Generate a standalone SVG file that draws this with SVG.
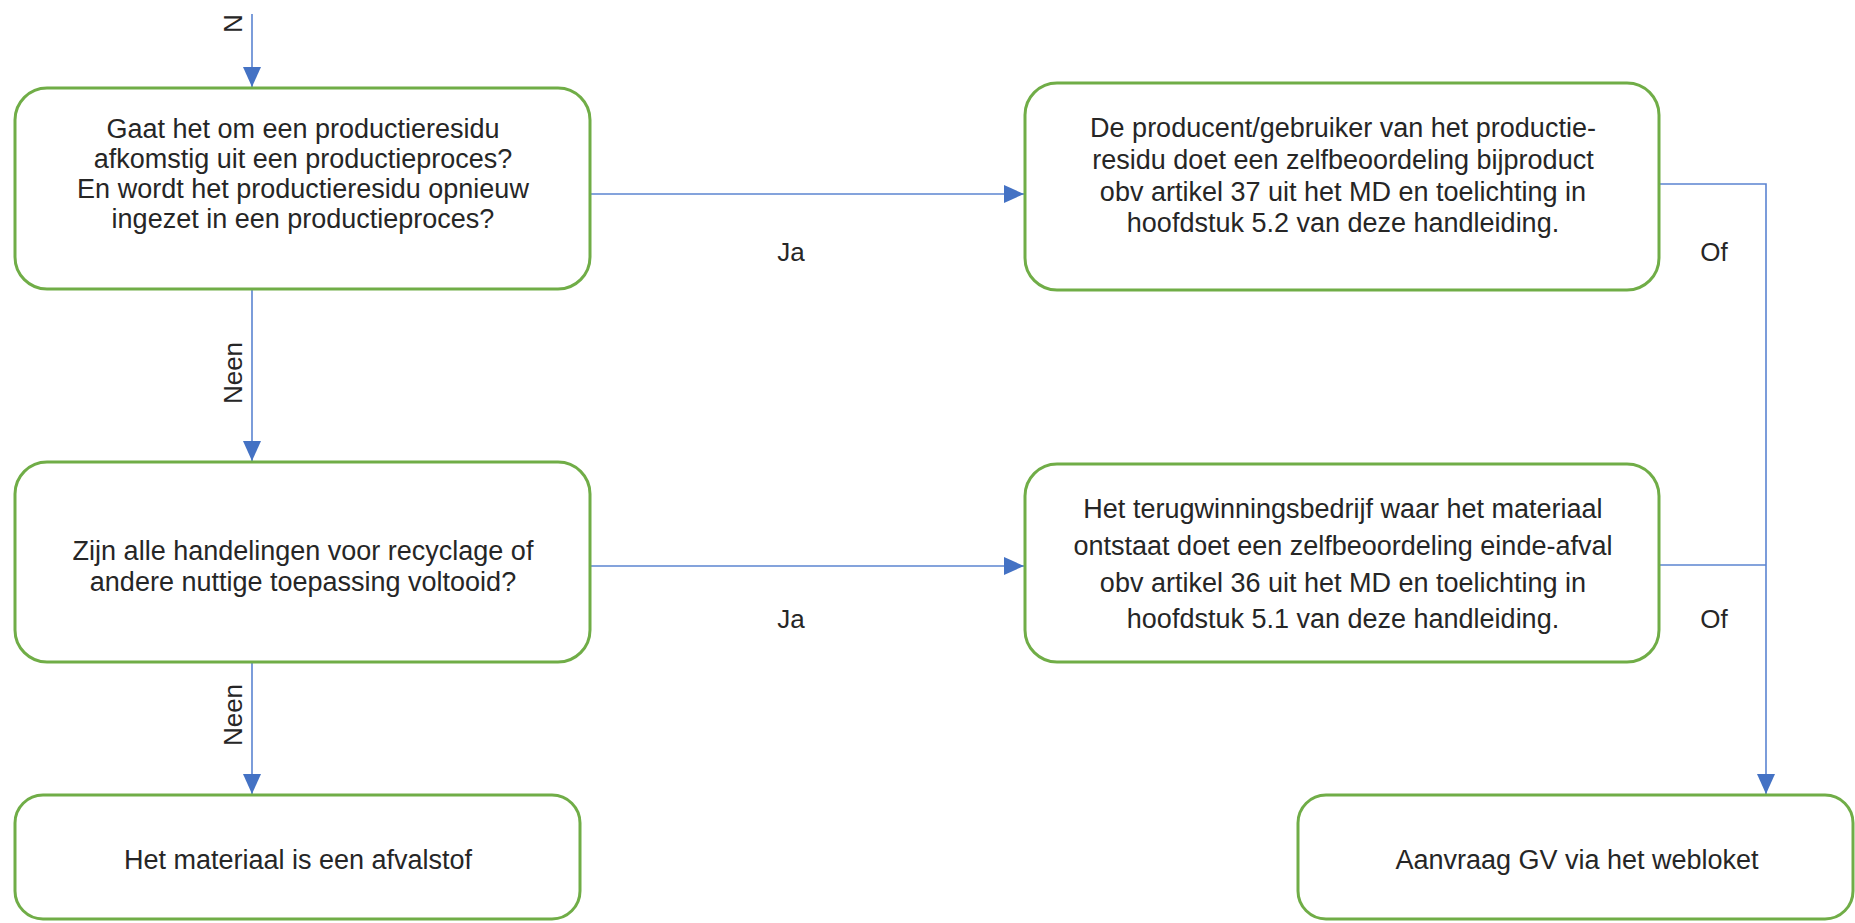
<svg xmlns="http://www.w3.org/2000/svg" width="1855" height="923" viewBox="0 0 1855 923">
<style>
.box{fill:#ffffff;stroke:#70AD47;stroke-width:3}
.t{font-family:"Liberation Sans",Arial,sans-serif;font-size:27px;fill:#262626;text-anchor:middle}
.lbl{font-family:"Liberation Sans",Arial,sans-serif;font-size:26px;fill:#262626}
.c{fill:none;stroke:#5B84D1;stroke-width:1.6}
.ca{fill:none;stroke:#5B84D1;stroke-width:1.6;marker-end:url(#arr)}
</style>
<defs>
<marker id="arr" viewBox="0 0 10 10" refX="10" refY="5" markerUnits="userSpaceOnUse" markerWidth="20" markerHeight="20" orient="auto">
<path d="M0,0.5 L10,5 L0,9.5 z" fill="#4472C4"/>
</marker>
</defs>
<rect width="1855" height="923" fill="#ffffff"/>
<g id="connectors">
<line class="ca" x1="252" y1="14" x2="252" y2="87"/>
<line class="ca" x1="252" y1="290" x2="252" y2="461"/>
<line class="ca" x1="252" y1="662" x2="252" y2="794"/>
<line class="ca" x1="590" y1="194" x2="1024" y2="194"/>
<line class="ca" x1="590" y1="566" x2="1024" y2="566"/>
<polyline class="c" points="1659,184 1766,184 1766,565"/>
<line class="c" x1="1659" y1="565" x2="1766" y2="565"/>
<line class="ca" x1="1766" y1="565" x2="1766" y2="794"/>
<text class="lbl" transform="rotate(-90 242 33)" x="242" y="33">N</text>
<text class="lbl" transform="rotate(-90 242 373)" x="242" y="373" text-anchor="middle">Neen</text>
<text class="lbl" transform="rotate(-90 242 715)" x="242" y="715" text-anchor="middle">Neen</text>
<text class="lbl" x="791" y="261" text-anchor="middle">Ja</text>
<text class="lbl" x="791" y="628" text-anchor="middle">Ja</text>
<text class="lbl" x="1714" y="261" text-anchor="middle">Of</text>
<text class="lbl" x="1714" y="628" text-anchor="middle">Of</text>
</g>
<g id="node-productieresidu">
<rect class="box" x="15" y="88" width="575" height="201" rx="32" ry="32"/>
<text class="t" x="303" y="138">Gaat het om een productieresidu</text>
<text class="t" x="303" y="168">afkomstig uit een productieproces?</text>
<text class="t" x="303" y="198">En wordt het productieresidu opnieuw</text>
<text class="t" x="303" y="228">ingezet in een productieproces?</text>
</g>
<g id="node-bijproduct">
<rect class="box" x="1025" y="83" width="634" height="207" rx="32" ry="32"/>
<text class="t" x="1343" y="137">De producent/gebruiker van het productie-</text>
<text class="t" x="1343" y="169">residu doet een zelfbeoordeling bijproduct</text>
<text class="t" x="1343" y="201">obv artikel 37 uit het MD en toelichting in</text>
<text class="t" x="1343" y="232">hoofdstuk 5.2 van deze handleiding.</text>
</g>
<g id="node-recyclage">
<rect class="box" x="15" y="462" width="575" height="200" rx="32" ry="32"/>
<text class="t" x="303" y="560">Zijn alle handelingen voor recyclage of</text>
<text class="t" x="303" y="591">andere nuttige toepassing voltooid?</text>
</g>
<g id="node-einde-afval">
<rect class="box" x="1025" y="464" width="634" height="198" rx="32" ry="32"/>
<text class="t" x="1343" y="518">Het terugwinningsbedrijf waar het materiaal</text>
<text class="t" x="1343" y="555">ontstaat doet een zelfbeoordeling einde-afval</text>
<text class="t" x="1343" y="592">obv artikel 36 uit het MD en toelichting in</text>
<text class="t" x="1343" y="628">hoofdstuk 5.1 van deze handleiding.</text>
</g>
<g id="node-afvalstof">
<rect class="box" x="15" y="795" width="565" height="124" rx="28" ry="28"/>
<text class="t" x="298" y="869">Het materiaal is een afvalstof</text>
</g>
<g id="node-webloket">
<rect class="box" x="1298" y="795" width="555" height="124" rx="28" ry="28"/>
<text class="t" x="1577" y="869">Aanvraag GV via het webloket</text>
</g>
</svg>
